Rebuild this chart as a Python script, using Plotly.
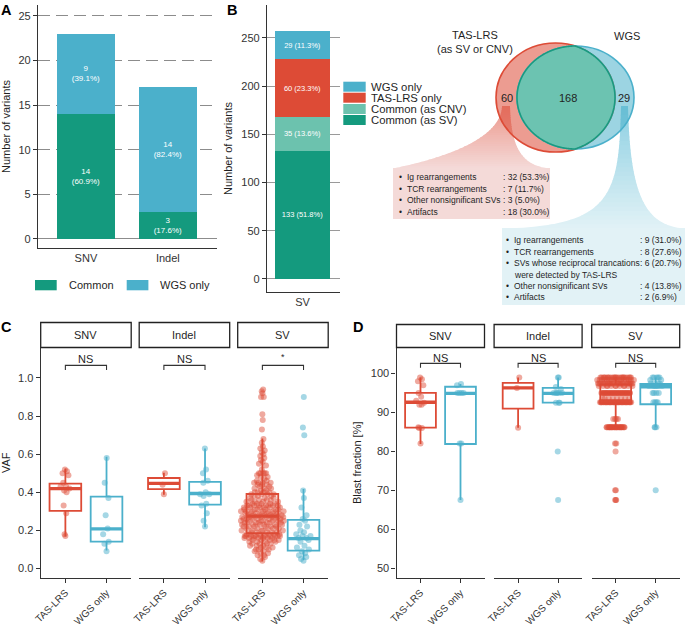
import numpy as np
import plotly.graph_objects as go

W, H = 685, 626
FONT = "Liberation Sans, Arial, Helvetica, sans-serif"
TXT = "#1f1f1f"
AXC = "#333333"

C_COMMON = "#149A7E"
C_CNV = "#6CC2AE"
C_TAS = "#DD4B36"
C_WGS = "#4BB0CB"
P_TAS = "rgba(221,75,54,0.48)"
P_WGS = "rgba(75,176,203,0.5)"

# ---------------- data ----------------
# Panel A
a_categories = ["SNV", "Indel"]
a_common = [14, 3]
a_wgs_only = [9, 14]
a_legend = ["Common", "WGS only"]

# Panel B
b_category = ["SV"]
b_series = ["Common (as SV)", "Common (as CNV)", "TAS-LRS only", "WGS only"]
b_values = [133, 35, 60, 29]

# Venn
venn_sets = ["TAS-LRS<br>(as SV or CNV)", "WGS"]
venn_counts = [60, 168, 29]   # TAS-LRS only, both, WGS only

tas_only_items = ["Ig rearrangements", "TCR rearrangements", "Other nonsignificant SVs", "Artifacts"]
tas_only_counts = [32, 7, 3, 18]
wgs_only_items = ["Ig rearrangements", "TCR rearrangements",
                  "SVs whose reciprocal trancations<br>were detected by TAS-LRS",
                  "Other nonsignificant SVs", "Artifacts"]
wgs_only_counts = [9, 8, 6, 4, 2]

facets = ["SNV", "Indel", "SV"]
groups = ["TAS-LRS", "WGS only"]

# Panel C: VAF
vaf_snv_tas = [0.52, 0.51, 0.50, 0.49, 0.45, 0.43, 0.43, 0.42, 0.41, 0.40, 0.33, 0.29, 0.18, 0.17]
vaf_snv_wgs = [0.58, 0.45, 0.37, 0.28, 0.21, 0.18, 0.14, 0.13, 0.09]
vaf_indel_tas = [0.50, 0.44, 0.39]
vaf_indel_wgs = [0.63, 0.52, 0.50, 0.46, 0.45, 0.40, 0.39, 0.39, 0.38, 0.34, 0.33, 0.29, 0.25, 0.22]
vaf_sv_tas = [
    0.94, 0.93, 0.92, 0.90, 0.90, 0.81, 0.78, 0.73,
    0.68, 0.66, 0.64, 0.63, 0.62, 0.61, 0.60, 0.59, 0.58, 0.57, 0.56, 0.55, 0.54, 0.52,
    0.50, 0.50, 0.50, 0.50, 0.50, 0.49, 0.48, 0.48, 0.47, 0.46, 0.46, 0.45, 0.45, 0.45, 0.45,
    0.44, 0.44, 0.44, 0.43, 0.43, 0.42, 0.42, 0.42, 0.41, 0.41, 0.40, 0.40, 0.40, 0.40,
    0.39, 0.39, 0.39, 0.39, 0.38, 0.38, 0.38, 0.37, 0.37, 0.37, 0.36, 0.36, 0.36, 0.36,
    0.35, 0.35, 0.35, 0.35, 0.34, 0.34, 0.34, 0.34, 0.34,
    0.33, 0.33, 0.33, 0.33, 0.33, 0.33, 0.33, 0.33, 0.32, 0.32, 0.32, 0.32, 0.32, 0.32,
    0.31, 0.31, 0.31, 0.31, 0.31, 0.31, 0.30, 0.30, 0.30, 0.30, 0.30, 0.30, 0.30,
    0.29, 0.29, 0.29, 0.29, 0.29, 0.29, 0.29, 0.28, 0.28, 0.28, 0.28, 0.28, 0.28, 0.28,
    0.27, 0.27, 0.27, 0.27, 0.27, 0.27, 0.27, 0.27, 0.26, 0.26, 0.26, 0.26, 0.26, 0.26, 0.26,
    0.25, 0.25, 0.25, 0.25, 0.25, 0.25, 0.25, 0.24, 0.24, 0.24, 0.24, 0.24, 0.24, 0.24,
    0.23, 0.23, 0.23, 0.23, 0.23, 0.23, 0.22, 0.22, 0.22, 0.22, 0.22, 0.22,
    0.21, 0.21, 0.21, 0.21, 0.21, 0.20, 0.20, 0.20, 0.20, 0.20, 0.19, 0.19, 0.19, 0.19, 0.19,
    0.18, 0.18, 0.18, 0.18, 0.18, 0.18,
    0.17, 0.17, 0.17, 0.17, 0.17, 0.17, 0.17, 0.17, 0.17, 0.17, 0.17, 0.17,
    0.16, 0.16, 0.16, 0.16, 0.16, 0.16, 0.16, 0.15, 0.15, 0.15, 0.15, 0.15,
    0.14, 0.14, 0.14, 0.14, 0.13, 0.13, 0.13, 0.13, 0.12, 0.12, 0.12, 0.11, 0.11, 0.11,
    0.10, 0.10, 0.10, 0.09, 0.09, 0.08, 0.08, 0.07, 0.07, 0.06, 0.05, 0.04]
vaf_sv_wgs = [0.90, 0.74, 0.70, 0.41, 0.37, 0.32, 0.28, 0.26, 0.25, 0.23, 0.22, 0.20, 0.19, 0.18,
              0.17, 0.17, 0.16, 0.16, 0.15, 0.14, 0.12, 0.11, 0.10, 0.09, 0.08, 0.07, 0.06, 0.05, 0.04]
# box statistics per facet (SNV, Indel, SV): lower whisker, Q1, median, Q3, upper whisker
vaf_stats_tas = [[0.168, 0.302, 0.419, 0.445, 0.525],
                 [0.387, 0.417, 0.447, 0.475, 0.503],
                 [0.037, 0.186, 0.275, 0.391, 0.682]]
vaf_stats_wgs = [[0.094, 0.141, 0.208, 0.377, 0.586],
                 [0.216, 0.335, 0.394, 0.455, 0.630],
                 [0.045, 0.094, 0.157, 0.255, 0.417]]
vaf_signif = ["NS", "NS", "*"]

# Panel D: blast fraction
blast_snv_tas = [99.0, 98.5, 98.0, 97.0, 95.0, 94.0, 93.0, 92.5, 92.0, 92.0, 86.2, 86.0, 86.0, 82.0]
blast_snv_wgs = [97.3, 97.0, 95.0, 95.0, 95.0, 95.0, 82.0, 82.0, 67.5]
blast_indel_tas = [99.0, 96.3, 86.1]
blast_indel_wgs = [99.0, 99.0, 96.5, 96.0, 95.0, 95.0, 95.0, 95.0, 95.0, 92.5, 92.5, 92.5, 80.0, 67.5]
blast_sv_tas = [
    99.0, 99.0, 99.0, 99.0, 99.0, 99.0, 99.0, 99.0, 99.0, 99.0, 99.0, 99.0,
    99.0, 99.0, 99.0, 99.0, 99.0, 99.0, 99.0, 99.0, 99.0, 99.0, 99.0, 99.0,
    98.3, 98.3, 98.3, 98.3, 98.3, 98.3, 98.3, 98.3, 98.3, 98.3, 98.3, 98.3, 98.3, 98.3, 98.3, 98.3,
    97.4, 97.4, 97.4, 97.4, 97.4, 97.4, 97.4, 97.4, 97.4, 97.4, 97.4, 97.4,
    97.4, 97.4, 97.4, 97.4, 97.4, 97.4, 97.4, 97.4, 97.4, 97.4, 97.4, 97.4,
    96.8, 96.8, 96.8, 96.8, 96.8, 96.8, 96.8, 96.8, 96.8, 96.8, 96.8, 96.8,
    95.0, 95.0, 95.0, 95.0, 95.0, 95.0, 95.0, 95.0, 95.0, 95.0, 95.0, 95.0, 95.0, 95.0, 95.0, 95.0,
    95.0, 95.0, 95.0, 95.0, 95.0, 95.0, 95.0, 95.0, 95.0, 95.0, 95.0, 95.0, 95.0, 95.0, 95.0, 95.0,
    93.6, 93.6, 93.6, 93.6, 93.6, 93.6, 93.6, 93.6,
    92.6, 92.6, 92.6, 92.6, 92.6, 92.6, 92.6, 92.6, 92.6, 92.6, 92.6, 92.6, 92.6, 92.6, 92.6, 92.6,
    92.6, 92.6, 92.6, 92.6, 92.6, 92.6, 92.6, 92.6, 92.6, 92.6, 92.6, 92.6, 92.6, 92.6, 92.6, 92.6,
    92.6, 92.6, 92.6, 92.6, 92.6, 92.6, 92.6, 92.6,
    88.3, 88.3, 88.3, 88.3,
    86.2, 86.2, 86.2, 86.2, 86.2, 86.2, 86.2, 86.2, 86.2, 86.2, 86.2, 86.2, 86.2, 86.2,
    86.2, 86.2, 86.2, 86.2, 86.2, 86.2, 86.2, 86.2, 86.2, 86.2, 86.2, 86.2, 86.2, 86.2,
    82.0, 82.0, 80.0, 70.0, 70.0, 67.5, 67.5, 67.5]
blast_sv_wgs = [99.0, 99.0, 99.0, 99.0, 99.0, 98.3, 98.3, 97.4, 97.4, 97.4, 97.4,
                96.8, 96.8, 96.8, 96.8, 96.8, 96.8, 95.0, 95.0, 95.0, 95.0,
                92.6, 92.6, 92.6, 92.6, 86.2, 86.2, 86.2, 70.0]
blast_stats_tas = [[81.9, 86.1, 92.6, 95.0, 99.0],
                   [86.1, 91.0, 96.3, 97.6, 99.0],
                   [86.2, 92.4, 95.0, 97.2, 99.0]]
blast_stats_wgs = [[67.5, 81.9, 94.9, 96.6, 97.3],
                   [92.5, 92.5, 94.9, 96.3, 99.0],
                   [86.2, 92.1, 96.6, 97.3, 99.0]]
blast_signif = ["NS", "NS", "NS"]

vaf_points = [[vaf_snv_tas, vaf_snv_wgs], [vaf_indel_tas, vaf_indel_wgs], [vaf_sv_tas, vaf_sv_wgs]]
blast_points = [[blast_snv_tas, blast_snv_wgs], [blast_indel_tas, blast_indel_wgs], [blast_sv_tas, blast_sv_wgs]]


# ---------------- helpers ----------------
def px(x):
    return x / W


def py(y):
    return 1 - y / H


def xk(i):
    return "xaxis" if i == 1 else f"xaxis{i}"


def yk(i):
    return "yaxis" if i == 1 else f"yaxis{i}"


def xr(i):
    return "x" if i == 1 else f"x{i}"


def yr(i):
    return "y" if i == 1 else f"y{i}"


def vdc(n, base=2):
    out = []
    for i in range(1, n + 1):
        v, denom, k = 0.0, 1.0, i
        while k:
            denom *= base
            k, r = divmod(k, base)
            v += r / denom
        out.append(v)
    return np.array(out)


def quasi_offsets(vals, width, n_max):
    v = np.asarray(vals, float)
    n = len(v)
    if n < 2:
        return np.zeros(n)
    sd = v.std(ddof=1)
    q75, q25 = np.percentile(v, [75, 25])
    s = min(sd, (q75 - q25) / 1.34) if q75 > q25 else sd
    bw = 0.9 * s * n ** -0.2 if s > 0 else 1.0
    dens = np.exp(-0.5 * ((v[:, None] - v[None, :]) / bw) ** 2).sum(1)
    dens = dens / dens.max()
    order = np.argsort(v, kind="stable")
    off = np.zeros(n)
    off[order] = 2 * vdc(n) - 1
    return off * dens * width * np.sqrt(n / n_max)


def base_axis(**kw):
    d = dict(showgrid=False, zeroline=False, showline=True, linecolor=AXC, linewidth=1.2,
             ticks="outside", ticklen=4, tickcolor=AXC, tickwidth=1.1, automargin=False,
             tickfont=dict(size=11, color="#333333", family=FONT), fixedrange=True)
    d.update(kw)
    return d


fig = go.Figure()
layout = dict(width=W, height=H, margin=dict(l=0, r=0, t=0, b=0, autoexpand=False),
              paper_bgcolor="white", plot_bgcolor="rgba(0,0,0,0)", showlegend=False,
              font=dict(family=FONT, size=11, color=TXT), barmode="stack", hovermode=False)
shapes = []
annots = []

# ---------------- Panel A ----------------
A_BW = 0.7
a_tot = [c + w for c, w in zip(a_common, a_wgs_only)]
for vals, col, name in [(a_common, C_COMMON, a_legend[0]), (a_wgs_only, C_WGS, a_legend[1])]:
    fig.add_trace(go.Bar(x=[0, 1], y=vals, width=A_BW,
                         marker=dict(color=col, line=dict(width=0)),
                         text=[f"{v}<br>({v / t * 100:.1f}%)" for v, t in zip(vals, a_tot)],
                         textposition="inside", insidetextanchor="middle", constraintext="none",
                         textfont=dict(size=8, color="white"), name=name, xaxis="x", yaxis="y"))
layout["xaxis"] = base_axis(domain=[px(38), px(217)], range=[-0.585, 1.6], tickvals=[0, 1],
                            ticktext=a_categories, ticks="", anchor="y")
layout["yaxis"] = base_axis(domain=[py(248), py(5)], range=[-1.01, 26.2], tickvals=[0, 5, 10, 15, 20, 25],
                            showgrid=True, griddash="12px,6px", gridcolor="#8c8c8c", gridwidth=1.1,
                            zeroline=True, zerolinecolor="#8c8c8c", zerolinewidth=1.1, anchor="x",
                            title=dict(text="Number of variants", standoff=6, font=dict(size=11, color=TXT)))
# legend A
for lab, col, x0 in zip(a_legend, [C_COMMON, C_WGS], [35, 126.7]):
    shapes.append(dict(type="rect", xref="paper", yref="paper", x0=px(x0), x1=px(x0 + 21.7),
                       y0=py(290.3), y1=py(280), fillcolor=col, line=dict(width=0)))
    annots.append(dict(text=lab, x=px(x0 + 31.5), y=py(285.3), xref="paper", yref="paper",
                       xanchor="left", yanchor="middle", showarrow=False, font=dict(size=11, color=TXT)))

# ---------------- Panel B ----------------
B_BW = 0.8
b_colors = [C_COMMON, C_CNV, C_TAS, C_WGS]
b_tot = sum(b_values)
for name, val, col in zip(b_series, b_values, b_colors):
    fig.add_trace(go.Bar(x=[0], y=[val], width=B_BW,
                         marker=dict(color=col, line=dict(width=0)),
                         text=[f"{val} ({val / b_tot * 100:.1f}%)"], textposition="inside",
                         insidetextanchor="middle", constraintext="none",
                         textfont=dict(size=7.5, color="white"), name=name, xaxis="x2", yaxis="y2"))
layout["xaxis2"] = base_axis(domain=[px(267), px(340)], range=[-0.516, 0.545], tickvals=[0],
                             ticktext=b_category, ticks="", anchor="y2")
layout["yaxis2"] = base_axis(domain=[py(292), py(5)], range=[-13.5, 284.2], tickvals=[0, 50, 100, 150, 200, 250],
                             showgrid=True, gridcolor="#9a9a9a", gridwidth=1.1,
                             zeroline=True, zerolinecolor="#9a9a9a", zerolinewidth=1.1, anchor="x2",
                             title=dict(text="Number of variants", standoff=6, font=dict(size=11, color=TXT)))
leg_rows = [(81.7, 91.7), (92.7, 102.7), (104, 114), (115, 125)]
for (y0, y1), name, col in zip(leg_rows, b_series[::-1], b_colors[::-1]):
    shapes.append(dict(type="rect", xref="paper", yref="paper", x0=px(343.3), x1=px(365.7),
                       y0=py(y1), y1=py(y0), fillcolor=col, line=dict(width=0)))
    annots.append(dict(text=name, x=px(369), y=py((y0 + y1) / 2 + 0.3), xref="paper", yref="paper",
                       xanchor="left", yanchor="middle", showarrow=False, font=dict(size=11.3, color=TXT)))

# ---------------- Venn + callouts ----------------
RED_E = (555.5, 97.5, 59.5, 54.5)
BLUE_E = (575.5, 97.5, 58.5, 51.5)


def bez(p0, p1, p2, p3, n=300):
    t = np.linspace(0, 1, n)[:, None]
    pts = ((1 - t) ** 3) * np.array(p0) + 3 * t * (1 - t) ** 2 * np.array(p1) \
        + 3 * t ** 2 * (1 - t) * np.array(p2) + t ** 3 * np.array(p3)
    return pts[:, 0], pts[:, 1]


def tail_bands(left, right, ytop, ybot, ctop, cbot, nb=28):
    lx, ly = bez(*left)
    rx, ry = bez(*right)
    edges = np.linspace(ytop, ybot, nb + 1)
    out = []
    for i in range(nb):
        ya = edges[i]
        yb = min(edges[i + 1] + 0.8, ybot)
        ys = np.linspace(ya, yb, 6)
        xl = np.interp(ys, ly, lx)
        xrr = np.interp(ys, ry, rx)
        pts = list(zip(xl, ys)) + list(zip(xrr[::-1], ys[::-1]))
        path = "M " + " L ".join(f"{px(a):.5f},{py(b):.5f}" for a, b in pts) + " Z"
        f = (i + 0.5) / nb
        c = [int(round(ctop[j] * (1 - f) + cbot[j] * f)) for j in range(3)]
        out.append(dict(type="path", xref="paper", yref="paper", path=path,
                        fillcolor=f"rgb({c[0]},{c[1]},{c[2]})", line=dict(width=0), layer="below"))
    return out


shapes += tail_bands(((502, 106), (501, 145), (420, 163), (393, 168.5)),
                     ((510, 106), (511, 148), (522, 166), (550, 168.5)),
                     106, 168.5, (236, 150, 138), (244, 218, 216))
shapes += tail_bands(((621, 106), (619, 195), (612, 226), (503, 228.5)),
                     ((628, 106), (630, 195), (645, 226), (685, 228.5)),
                     106, 228.5, (140, 207, 226), (226, 242, 246))

# callout boxes
shapes.append(dict(type="rect", xref="paper", yref="paper", x0=px(393), x1=px(550), y0=py(219), y1=py(168),
                   fillcolor="rgb(244,218,216)", line=dict(width=0)))
shapes.append(dict(type="rect", xref="paper", yref="paper", x0=px(502), x1=px(685), y0=py(305), y1=py(228),
                   fillcolor="rgb(226,242,246)", line=dict(width=0)))

# ellipses
for (cx, cy, rx_, ry_), fc, lc in [(RED_E, "rgba(221,75,54,0.55)", "#DD4B36"),
                                     (BLUE_E, "rgba(75,176,203,0.55)", "#4BB0CB")]:
    shapes.append(dict(type="circle", xref="paper", yref="paper", x0=px(cx - rx_), x1=px(cx + rx_),
                       y0=py(cy + ry_), y1=py(cy - ry_), fillcolor=fc, line=dict(color=lc, width=1.6)))


def ell_pts(e, n=720):
    cx, cy, a, b = e
    t = np.linspace(0, 2 * np.pi, n, endpoint=False)
    return cx + a * np.cos(t), cy + b * np.sin(t)


def inside(x, y, e):
    cx, cy, a, b = e
    return ((x - cx) / a) ** 2 + ((y - cy) / b) ** 2 <= 1.000001


ex1, ey1 = ell_pts(RED_E)
ex2, ey2 = ell_pts(BLUE_E)
m1 = inside(ex1, ey1, BLUE_E)
m2 = inside(ex2, ey2, RED_E)
ox = np.concatenate([ex1[m1], ex2[m2]])
oy = np.concatenate([ey1[m1], ey2[m2]])
ang = np.arctan2(oy - oy.mean(), ox - ox.mean())
o = np.argsort(ang)
opath = "M " + " L ".join(f"{px(a):.5f},{py(b):.5f}" for a, b in zip(ox[o], oy[o])) + " Z"
shapes.append(dict(type="path", xref="paper", yref="paper", path=opath, fillcolor="#6CC3B1",
                   line=dict(color="#1A9A80", width=1.6)))

for txt, xx in zip(venn_counts, [507, 567.5, 624]):
    annots.append(dict(text=str(txt), x=px(xx), y=py(97.8), xref="paper", yref="paper", showarrow=False,
                       xanchor="center", yanchor="middle", font=dict(size=11, color=TXT)))
annots.append(dict(text=venn_sets[0], x=px(475), y=py(42.5), xref="paper", yref="paper", showarrow=False,
                   xanchor="center", yanchor="middle", font=dict(size=11, color=TXT)))
annots.append(dict(text=venn_sets[1], x=px(627), y=py(36), xref="paper", yref="paper", showarrow=False,
                   xanchor="center", yanchor="middle", font=dict(size=11, color=TXT)))


def callout_text(items, counts, total, xb, xt, xv, y0, dy):
    line = 0
    for it, c in zip(items, counts):
        parts = it.split("<br>")
        yy = y0 + dy * line
        annots.append(dict(text="•", x=px(xb), y=py(yy), xref="paper", yref="paper", showarrow=False,
                           xanchor="left", yanchor="middle", font=dict(size=8.5, color=TXT)))
        annots.append(dict(text=f": {c} ({c / total * 100:.1f}%)", x=px(xv), y=py(yy), xref="paper",
                           yref="paper", showarrow=False, xanchor="left", yanchor="middle",
                           font=dict(size=8.5, color=TXT)))
        for p in parts:
            yy = y0 + dy * line
            annots.append(dict(text=p, x=px(xt), y=py(yy), xref="paper", yref="paper", showarrow=False,
                               xanchor="left", yanchor="middle", font=dict(size=8.5, color=TXT)))
            line += 1


callout_text(tas_only_items, tas_only_counts, venn_counts[0], 396.5, 404.5, 501, 177.5, 11.35)
callout_text(wgs_only_items, wgs_only_counts, venn_counts[2], 504, 511.5, 637.5, 240.5, 11.35)

# ---------------- Panels C & D ----------------
panels = [
    dict(ids=[3, 4, 5], x0=40.7, pitch=98.5, w=90.5, yrange=[-0.0499, 1.160], pts=vaf_points,
         stats=[vaf_stats_tas, vaf_stats_wgs], tickvals=[0, 0.2, 0.4, 0.6, 0.8, 1.0], tickformat=".1f",
         title="VAF", br=(1.042, 1.066), laby=1.10, sig=vaf_signif, spread=0.55, strip=(322.5, 347.5),
         standoff=6),
    dict(ids=[6, 7, 8], x0=396.5, pitch=97.6, w=88, yrange=[47.51, 106.67], pts=blast_points,
         stats=[blast_stats_tas, blast_stats_wgs], tickvals=[50, 60, 70, 80, 90, 100], tickformat="d",
         title="Blast fraction [%]", br=(101.45, 102.6), laby=103.85, sig=blast_signif, spread=0.48,
         strip=(324.5, 347.5), standoff=6),
]
BOXW = 0.77
for P in panels:
    n_max = max(len(g) for f in P["pts"] for g in f)
    for fi, aid in enumerate(P["ids"]):
        xa0 = P["x0"] + P["pitch"] * fi
        xa1 = xa0 + P["w"]
        xa, ya = xr(aid), yr(aid)
        layout[xk(aid)] = base_axis(domain=[px(xa0), px(xa1)], range=[-0.6, 1.6], tickvals=[0, 1],
                                    ticktext=groups, tickangle=-45, anchor=ya,
                                    tickfont=dict(size=10, color="#333333", family=FONT))
        yax = base_axis(domain=[py(578), py(347.5)], range=P["yrange"], tickvals=P["tickvals"],
                        tickformat=P["tickformat"], anchor=xa)
        if fi == 0:
            yax["title"] = dict(text=P["title"], standoff=P["standoff"], font=dict(size=11, color=TXT))
        else:
            yax.update(showline=False, showticklabels=False, ticks="")
        layout[yk(aid)] = yax
        for gi, (col, pcol) in enumerate([(C_TAS, P_TAS), (C_WGS, P_WGS)]):
            lo, q1, med, q3, hi = P["stats"][gi][fi]
            fig.add_trace(go.Box(x=[gi], q1=[q1], median=[med], q3=[q3], lowerfence=[lo], upperfence=[hi],
                                 width=BOXW, whiskerwidth=0, boxpoints=False,
                                 fillcolor="rgba(255,255,255,0)", line=dict(color=col, width=1.8),
                                 xaxis=xa, yaxis=ya, hoverinfo="skip"))
            fig.add_trace(go.Scatter(x=[gi - BOXW / 2, gi + BOXW / 2], y=[med, med], mode="lines",
                                     line=dict(color=col, width=3.4), xaxis=xa, yaxis=ya, hoverinfo="skip"))
            vals = P["pts"][fi][gi]
            offs = quasi_offsets(vals, P["spread"], n_max)
            fig.add_trace(go.Scatter(x=gi + offs, y=vals, mode="markers",
                                     marker=dict(size=6, color=pcol, line=dict(width=0)),
                                     xaxis=xa, yaxis=ya, hoverinfo="skip"))
        b0, b1 = P["br"]
        fig.add_trace(go.Scatter(x=[0, 0, 1, 1], y=[b0, b1, b1, b0], mode="lines",
                                 line=dict(color=AXC, width=1.1), xaxis=xa, yaxis=ya, hoverinfo="skip"))
        sig = P["sig"][fi]
        annots.append(dict(text=sig, x=0.5, y=P["laby"] + (0.012 if sig == "*" else 0), xref=xa, yref=ya,
                           showarrow=False, xanchor="center", yanchor="middle",
                           font=dict(size=9 if sig == "*" else 11, color=TXT)))
        s0, s1 = P["strip"]
        shapes.append(dict(type="rect", xref="paper", yref="paper", x0=px(xa0), x1=px(xa1),
                           y0=py(s1), y1=py(s0), fillcolor="white", line=dict(color="#222222", width=1.3)))
        annots.append(dict(text=facets[fi], x=px((xa0 + xa1) / 2), y=py((s0 + s1) / 2), xref="paper",
                           yref="paper", showarrow=False, xanchor="center", yanchor="middle",
                           font=dict(size=11, color=TXT)))

# panel letters
for lab, xx, yy in [("A", 6, 9.5), ("B", 232, 9.5), ("C", 6.5, 327), ("D", 358, 327)]:
    annots.append(dict(text=f"<b>{lab}</b>", x=px(xx), y=py(yy), xref="paper", yref="paper", showarrow=False,
                       xanchor="center", yanchor="middle", font=dict(size=14.5, color="#000000")))

layout["shapes"] = shapes
layout["annotations"] = annots
fig.update_layout(**layout)
fig.write_html("out.html", config={"displayModeBar": False})

# remove the default page margin so the figure sits at the window's top-left corner
with open("out.html", "r", encoding="utf-8") as fh:
    html = fh.read()
html = html.replace("<head>", "<head><style>html,body{margin:0;padding:0;overflow:hidden;}</style>", 1)
with open("out.html", "w", encoding="utf-8") as fh:
    fh.write(html)
